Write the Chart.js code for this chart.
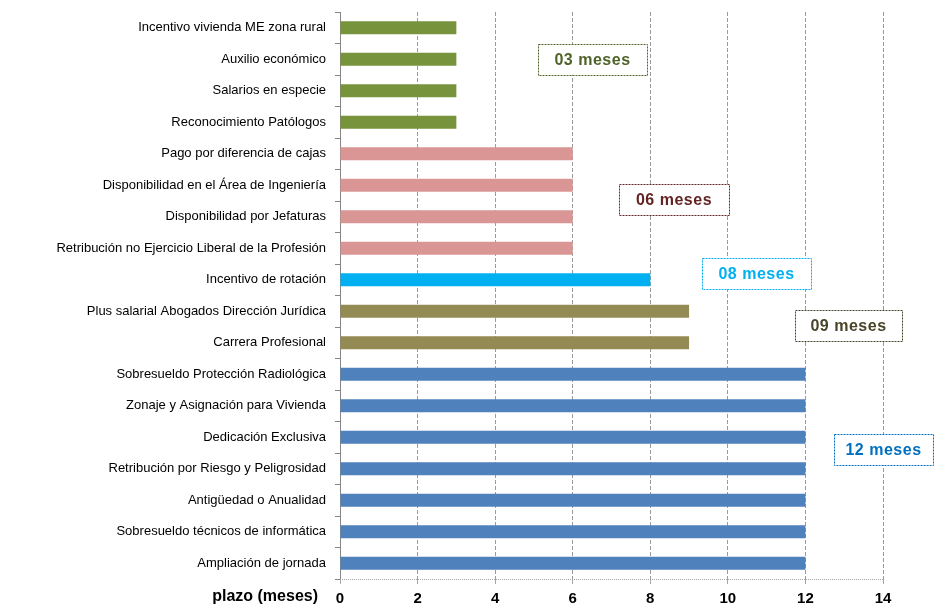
<!DOCTYPE html>
<html>
<head>
<meta charset="utf-8">
<script src="https://cdn.jsdelivr.net/npm/chart.js@4.4.0/dist/chart.umd.min.js"></script>
<style>
  html, body { margin: 0; padding: 0; background: #fff; }
  #wrap { width: 935px; height: 606px; }
</style>
</head>
<body>
<div id="wrap"><canvas id="plazos"></canvas></div>
<script>
// categorias (de arriba hacia abajo)
const categorias = [
  'Incentivo vivienda ME zona rural',
  'Auxilio económico',
  'Salarios en especie',
  'Reconocimiento Patólogos',
  'Pago por diferencia de cajas',
  'Disponibilidad en el Área de Ingeniería',
  'Disponibilidad por Jefaturas',
  'Retribución no Ejercicio Liberal de la Profesión',
  'Incentivo de rotación',
  'Plus salarial Abogados Dirección Jurídica',
  'Carrera Profesional',
  'Sobresueldo Protección Radiológica',
  'Zonaje y Asignación para Vivienda',
  'Dedicación Exclusiva',
  'Retribución por Riesgo y Peligrosidad',
  'Antigüedad o Anualidad',
  'Sobresueldo técnicos de informática',
  'Ampliación de jornada'
];
const plazoMeses = [3, 3, 3, 3, 6, 6, 6, 6, 8, 9, 9, 12, 12, 12, 12, 12, 12, 12];
const etiquetasGrupo = ['03 meses', '06 meses', '08 meses', '09 meses', '12 meses'];
const ticksX = [0, 2, 4, 6, 8, 10, 12, 14];

const colorPorPlazo = { 3: '#77933C', 6: '#D99694', 8: '#00B0F0', 9: '#948A54', 12: '#4F81BD' };

// recuadros de texto: [centro x (meses), centro y (indice categoria), ancho, color]
const recuadros = [
  [6.5, 1.0, 109, '#4F6228'],
  [8.6, 5.45, 110, '#632523'],
  [10.75, 7.8, 109, '#00B0F0'],
  [13.1, 9.45, 107, '#494429'],
  [14.0, 13.4, 99, '#0070C0']
];

const recuadrosPlugin = {
  id: 'recuadros',
  afterDraw(chart) {
    const { ctx, scales: { x, y } } = chart;
    ctx.save();
    // linea punteada del eje x
    ctx.strokeStyle = '#A6A6A6';
    ctx.lineWidth = 1;
    ctx.setLineDash([1, 1]);
    ctx.beginPath();
    ctx.moveTo(x.left, Math.round(x.top) + 0.5);
    ctx.lineTo(x.right, Math.round(x.top) + 0.5);
    ctx.stroke();

    recuadros.forEach(([xv, yi, w, color], i) => {
      const cx = x.getPixelForValue(xv);
      const cy = y.getPixelForValue(yi);
      const h = 31;
      const left = Math.round(Math.min(cx - w / 2, chart.width - w - 2));
      const top = Math.round(cy - h / 2);
      ctx.fillStyle = '#fff';
      ctx.fillRect(left, top, w, h);
      ctx.setLineDash([2, 1]);
      ctx.lineWidth = 1;
      ctx.strokeStyle = color;
      ctx.strokeRect(left + 0.5, top + 0.5, w, h);
      ctx.setLineDash([]);
      ctx.fillStyle = color;
      ctx.font = 'bold 16px "Liberation Sans", Arial, sans-serif';
      ctx.letterSpacing = '0.5px';
      ctx.textAlign = 'center';
      ctx.textBaseline = 'middle';
      ctx.fillText(etiquetasGrupo[i], left + w / 2, top + h / 2 + 1);
    });
    // titulo del eje x a la izquierda de los ticks
    ctx.letterSpacing = '0px';
    ctx.fillStyle = '#000';
    ctx.font = 'bold 16px "Liberation Sans Narrow", "Liberation Sans", Arial, sans-serif';
    ctx.textAlign = 'right';
    ctx.textBaseline = 'middle';
    ctx.fillText('plazo (meses)', x.left - 22, x.bottom - 9);
    ctx.restore();
  }
};

new Chart(document.getElementById('plazos'), {
  type: 'bar',
  data: {
    labels: categorias,
    datasets: [{
      data: plazoMeses,
      backgroundColor: plazoMeses.map(v => colorPorPlazo[v]),
      borderWidth: 0,
      barPercentage: 0.42,
      categoryPercentage: 1
    }]
  },
  options: {
    indexAxis: 'y',
    responsive: true,
    maintainAspectRatio: false,
    animation: false,
    layout: { padding: { top: 12, right: 52, left: 0, bottom: 0 } },
    plugins: { legend: { display: false }, tooltip: { enabled: false } },
    scales: {
      x: {
        min: 0,
        max: 14,
        afterBuildTicks: s => { s.ticks = ticksX.map(v => ({ value: v })); },
        afterFit: s => { s.height = 27; s.paddingLeft = 0; s.paddingRight = 0; },
        grid: { color: '#9A9A9A', tickLength: 5, tickColor: '#A6A6A6' },
        border: { display: false, dash: [4, 2] },
        ticks: {
          color: '#000',
          padding: 6,
          font: { family: '"Liberation Sans Narrow", "Liberation Sans", Arial', size: 15, weight: 'bold' }
        }
      },
      y: {
        afterFit: s => { s.width = 340; s.paddingTop = 0; s.paddingBottom = 0; },
        grid: { drawOnChartArea: false, tickLength: 5, color: '#868686' },
        border: { color: '#868686' },
        ticks: {
          color: '#000',
          padding: 9,
          font: { family: '"Liberation Sans", Arial', size: 13 }
        }
      }
    }
  },
  plugins: [recuadrosPlugin]
});
</script>
</body>
</html>
